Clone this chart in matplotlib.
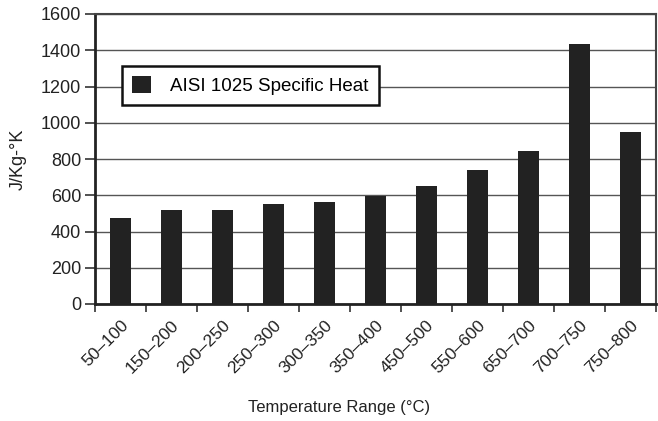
import matplotlib
matplotlib.use("Agg")
import matplotlib.pyplot as plt
import numpy as np

plt.rcParams['font.family'] = ['Liberation Sans', 'DejaVu Sans']

categories = ["50–100", "150–200", "200–250", "250–300", "300–350", "350–400",
              "450–500", "550–600", "650–700", "700–750", "750–800"]
values = [477, 520, 520, 550, 565, 597, 652, 740, 845, 1435, 950]
series_name = "AISI 1025 Specific Heat"
y_ticks = [0, 200, 400, 600, 800, 1000, 1200, 1400, 1600]

fig = plt.figure(figsize=(6.58, 4.21), dpi=100)
ax = fig.add_axes([95/658, 1 - 304/421, (656-95)/658, (304-14)/421])

x = np.arange(len(categories))
ax.bar(x, values, width=0.41, color="#222222", label=series_name, zorder=3)

ax.set_xlim(-0.5, len(categories) - 0.5)
ax.set_ylim(0, 1600)
ax.set_yticks(y_ticks)
ax.set_yticklabels([str(t) for t in y_ticks], fontsize=13, color="#222222")
ax.yaxis.grid(True, color="#555555", linewidth=1.0, zorder=0)

# x ticks at category boundaries, labels at centers
ax.set_xticks(np.arange(len(categories) + 1) - 0.5)
ax.set_xticklabels([])
ax.set_xticks(x, minor=True)
ax.set_xticklabels(categories, minor=True, rotation=45, ha="right",
                   rotation_mode="anchor", fontsize=12.5, color="#222222")
ax.tick_params(axis="x", which="minor", length=0, pad=10)
ax.tick_params(axis="x", which="major", length=6, width=1.2, direction="out", color="#333333")
ax.tick_params(axis="y", length=7, width=1.2, direction="out", color="#333333", pad=3)

for s in ["left", "bottom"]:
    ax.spines[s].set_linewidth(2.0)
    ax.spines[s].set_color("#222222")
for s in ["top", "right"]:
    ax.spines[s].set_linewidth(1.5)
    ax.spines[s].set_color("#444444")

ax.set_ylabel("J/Kg-°K", fontsize=13, color="#222222", labelpad=10)
ax.set_xlabel("Temperature Range (°C)", fontsize=12, color="#222222")
ax.xaxis.set_label_coords((339-95)/561, -(400-304)/290)

leg = ax.legend(loc="upper left", bbox_to_anchor=((122-95)/561, 1 - (66-14)/290),
                borderaxespad=0, frameon=True, fancybox=False, fontsize=13.5,
                handlelength=1.0, handleheight=1.0, borderpad=0.55, handletextpad=1.0)
leg.get_frame().set_edgecolor("#111111")
leg.get_frame().set_linewidth(1.8)
leg.get_frame().set_facecolor("white")
leg.get_frame().set_alpha(1)
leg.set_zorder(5)

fig.savefig("out.png", dpi=100)
